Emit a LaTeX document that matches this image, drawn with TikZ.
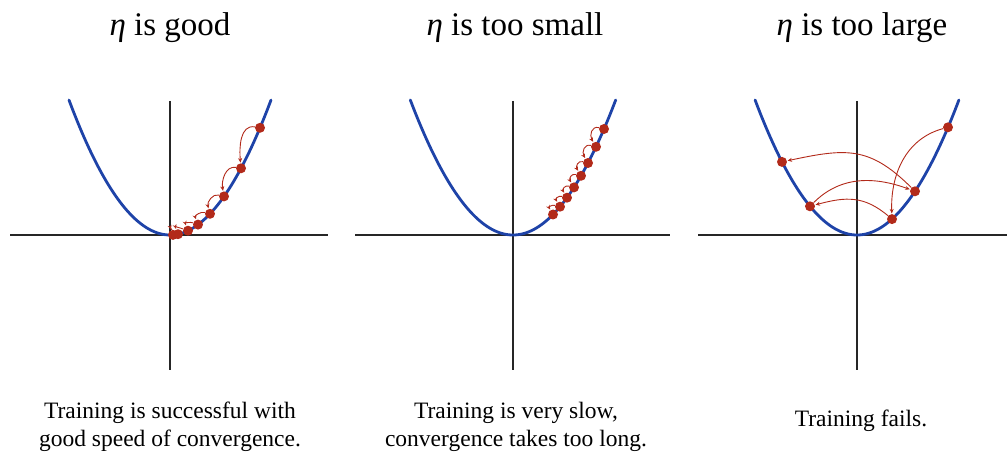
\documentclass[tikz,border=0pt]{standalone}
\usepackage{fontspec}
\setmainfont{Liberation Serif}
\usetikzlibrary{arrows.meta}
\definecolor{curveblue}{RGB}{30,67,168}
\definecolor{ptred}{RGB}{178,42,26}
\tikzset{
  axis/.style={line width=1.1pt, black!85},
  parab/.style={line width=2.8pt, curveblue, line cap=round},
  pt/.style={circle, fill=ptred, inner sep=0pt, minimum size=10pt},
  arr/.style={ptred, line width=0.9pt, -{Stealth[length=4.5pt,width=4pt]}, shorten >=0.5pt},
  title/.style={font=\fontsize{33}{38}\selectfont},
  caption/.style={font=\fontsize{23.5}{28}\selectfont, align=center}
}
\begin{document}
\begin{tikzpicture}[x=1pt,y=1pt]
\useasboundingbox (0,0) rectangle (1007,-454);
% ---------- panel 1 ----------
\draw[axis] (10,-235) -- (328,-235);
\draw[axis] (170,-101) -- (170,-370);
\draw[parab] plot[domain=-101:101, samples=120] ({170+\x},{-235+0.01323*\x*\x});
\node[pt] (a1) at (260,-127.8) {};
\node[pt] (a2) at (241,-168.3) {};
\node[pt] (a3) at (224,-196.4) {};
\node[pt] (a4) at (210,-213.8) {};
\node[pt] (a5) at (198,-224.6) {};
\node[pt] (a6) at (188,-230.7) {};
\node[pt] (a7) at (178,-234.2) {};
\node[pt] (a8) at (173,-234.9) {};
\draw[arr] (a1) to[out=170,in=95] (a2);
\draw[arr] (a2) to[out=170,in=100] (a3);
\draw[arr] (a3) to[out=165,in=105] (a4);
\draw[arr] (a4) to[out=165,in=110] (a5);
\draw[arr] (a5) to[out=160,in=110] (a6);
\draw[arr] (a6) to[out=160,in=110] (a7);
\draw[arr] (a7) to[out=150,in=110] (a8);
\node[title] (t1) at (170,-28) {\textit{η} is good};
\node[caption] (c1) at (170,-427) {Training is successful with\\good speed of convergence.};
% ---------- panel 2 ----------
\draw[axis] (355,-235) -- (670,-235);
\draw[axis] (513,-101) -- (513,-370);
\draw[parab] plot[domain=-102.7:102.7, samples=120] ({513+\x},{-235+0.0128*\x*\x});
\node[pt] (b1) at (604,-129.0) {};
\node[pt] (b2) at (596,-146.8) {};
\node[pt] (b3) at (588,-163.0) {};
\node[pt] (b4) at (581,-175.8) {};
\node[pt] (b5) at (574,-187.4) {};
\node[pt] (b6) at (567,-197.7) {};
\node[pt] (b7) at (560,-206.7) {};
\node[pt] (b8) at (553,-214.5) {};
\foreach \p/\q in {b1/b2,b2/b3,b3/b4,b4/b5,b5/b6,b6/b7,b7/b8}
  \draw[arr] (\p) to[out=165,in=120,looseness=1.3] (\q);
\node[title] (t2) at (515,-28) {\textit{η} is too small};
\node[caption] (c2) at (516,-427) {Training is very slow,\\convergence takes too long.};
% ---------- panel 3 ----------
\draw[axis] (698,-235) -- (1007,-235);
\draw[axis] (857,-101) -- (857,-370);
\draw[parab] plot[domain=-101.9:101.9, samples=120] ({857+\x},{-235+0.013*\x*\x});
\node[pt] (d1) at (948,-127.3) {};
\node[pt] (d2) at (892,-219.1) {};
\node[pt] (d3) at (810,-206.3) {};
\node[pt] (d4) at (915,-191.3) {};
\node[pt] (d5) at (782,-161.9) {};
\draw[arr] (d1) to[out=195,in=92] (d2);
\draw[arr] (d2) to[out=140,in=15,looseness=1.1] (d3);
\draw[arr] (d3) to[out=45,in=160] (d4);
\draw[arr] (d4) to[out=135,in=12,looseness=1.2] (d5);
\node[title] (t3) at (862,-28) {\textit{η} is too large};
\node[caption] (c3) at (861,-421) {Training fails.};
\end{tikzpicture}
\end{document}
